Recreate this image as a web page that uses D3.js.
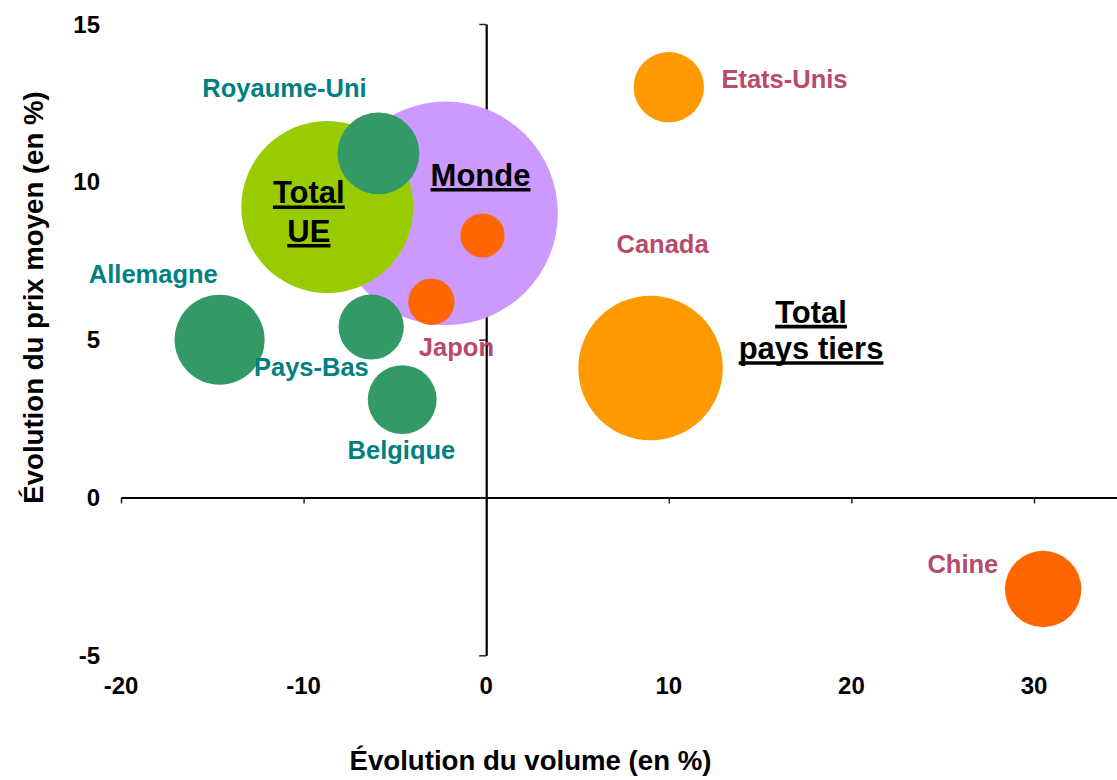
<!DOCTYPE html>
<html><head><meta charset="utf-8">
<script src="https://cdn.jsdelivr.net/npm/d3@7"></script>
<style>
body{margin:0;background:#fff}
svg{display:block}
text{font-family:"Liberation Sans",Arial,Helvetica,sans-serif;font-weight:bold}
</style>
</head><body>
<svg id="c" width="1117" height="780"></svg>
<script>
// ---- data ----
const names  = ["Monde","Total UE","Royaume-Uni","Allemagne","Pays-Bas","Belgique","Japon","Canada","Etats-Unis","Total pays tiers","Chine"];
const volume = [-2.2, -8.7, -5.9, -14.6, -6.3, -4.6, -3.0, -0.2, 10.0, 9.0, 30.5];
const price  = [ 9.0,  9.2, 10.9,   5.0,  5.4,  3.1,  6.2,  8.3, 13.0, 4.1, -2.9];
const weight = [100, 59.2, 13.4, 16.2, 8.5, 9.5, 4.3, 3.9, 9.9, 41.8, 11.7];
const group  = ["monde","ue","paysUE","paysUE","paysUE","paysUE","paysTiersB","paysTiersB","paysTiersA","tiers","paysTiersB"];
const xTicks = [-20,-10,0,10,20,30];
const yTicks = [-5,0,5,10,15];
const xTitle = "Évolution du volume (en %)";
const yTitle = "Évolution du prix moyen (en %)";

// ---- styles / layout ----
const fill = {monde:"#CC99FF", ue:"#99CC00", paysUE:"#339966", paysTiersA:"#FF9900", tiers:"#FF9900", paysTiersB:"#FF6600"};
const labelColor = {monde:"#000", ue:"#000", tiers:"#000", paysUE:"#008080", paysTiersA:"#B84A6A", paysTiersB:"#B84A6A"};
// label offsets from bubble centre (px): [dx, dy, lines, lineGap]
const labelLayout = {
  "Monde":[34.5,-27.7,["Monde"],0],
  "Total UE":[-18.5,-3.8,["Total","UE"],38.4],
  "Royaume-Uni":[-94,-56.4,["Royaume-Uni"],0],
  "Allemagne":[-66.3,-56.3,["Allemagne"],0],
  "Pays-Bas":[-59.8,48.7,["Pays-Bas"],0],
  "Belgique":[-0.8,59.7,["Belgique"],0],
  "Japon":[25,54.2,["Japon"],0],
  "Canada":[180,17.8,["Canada"],0],
  "Etats-Unis":[115.7,0.6,["Etats-Unis"],0],
  "Total pays tiers":[160.5,-45.4,["Total","pays tiers"],36.3],
  "Chine":[-80.3,-15.7,["Chine"],0]
};
const big = new Set(["monde","ue","tiers"]);

const data = names.map((n,i)=>({name:n, vx:volume[i], vy:price[i], w:weight[i], g:group[i]}));

const svg = d3.select("#c");
const x = d3.scaleLinear().domain([-20,35]).range([121,1125.3]);
const y = d3.scaleLinear().domain([-5,15]).range([655.3,24]);
const r = d3.scaleSqrt().domain([0,100]).range([0,111.8]);

// axes (crossing at 0)
const gx = svg.append("g").attr("transform",`translate(0,${y(0)})`)
  .call(d3.axisBottom(x).tickValues(xTicks).tickSizeInner(6).tickSizeOuter(0).tickFormat(""));
gx.select(".domain").attr("stroke","#000").attr("stroke-width",2.2);
gx.selectAll(".tick line").attr("stroke","#222").attr("stroke-width",1.5);

const gy = svg.append("g").attr("transform",`translate(${x(0)},0)`)
  .call(d3.axisLeft(y).tickValues(yTicks).tickSizeInner(7).tickSizeOuter(0).tickFormat(""));
gy.select(".domain").attr("stroke","#000").attr("stroke-width",2.2);
gy.selectAll(".tick line").attr("stroke","#222").attr("stroke-width",1.5);

// tick labels at low position
svg.append("g").selectAll("text").data(xTicks).join("text")
  .attr("x",d=>x(d)).attr("y",694.3).attr("text-anchor","middle")
  .attr("font-size",24).attr("fill","#000").text(d=>d);
svg.append("g").selectAll("text").data(yTicks).join("text")
  .attr("x",100).attr("y",d=>y(d)).attr("dy","0.36em").attr("text-anchor","end")
  .attr("font-size",24).attr("fill","#000").text(d=>d);

// bubbles
svg.append("g").selectAll("circle").data(data).join("circle")
  .attr("cx",d=>x(d.vx)).attr("cy",d=>y(d.vy)).attr("r",d=>r(d.w))
  .attr("fill",d=>fill[d.g]);

// labels
const gl = svg.append("g");
data.forEach(d=>{
  const L = labelLayout[d.name];
  const cx = x(d.vx)+L[0], cy = y(d.vy)+L[1];
  L[2].forEach((line,k)=>{
    const t = gl.append("text").attr("x",cx).attr("y",cy+k*L[3])
      .attr("text-anchor","middle")
      .attr("font-size", big.has(d.g)?31:25.5)
      .attr("fill",labelColor[d.g])
      .text(line);
    if (big.has(d.g)) {
      const w = t.node().getComputedTextLength();
      gl.append("line").attr("x1",cx-w/2).attr("x2",cx+w/2)
        .attr("y1",cy+k*L[3]+4).attr("y2",cy+k*L[3]+4)
        .attr("stroke","#000").attr("stroke-width",3.6);
    }
  });
});

// axis titles
svg.append("text").attr("x",530.5).attr("y",770).attr("text-anchor","middle")
  .attr("font-size",27.6).attr("fill","#000").text(xTitle);
svg.append("text").attr("transform","translate(43,297.5) rotate(-90)").attr("text-anchor","middle")
  .attr("font-size",27.6).attr("fill","#000").text(yTitle);
</script>
</body></html>
